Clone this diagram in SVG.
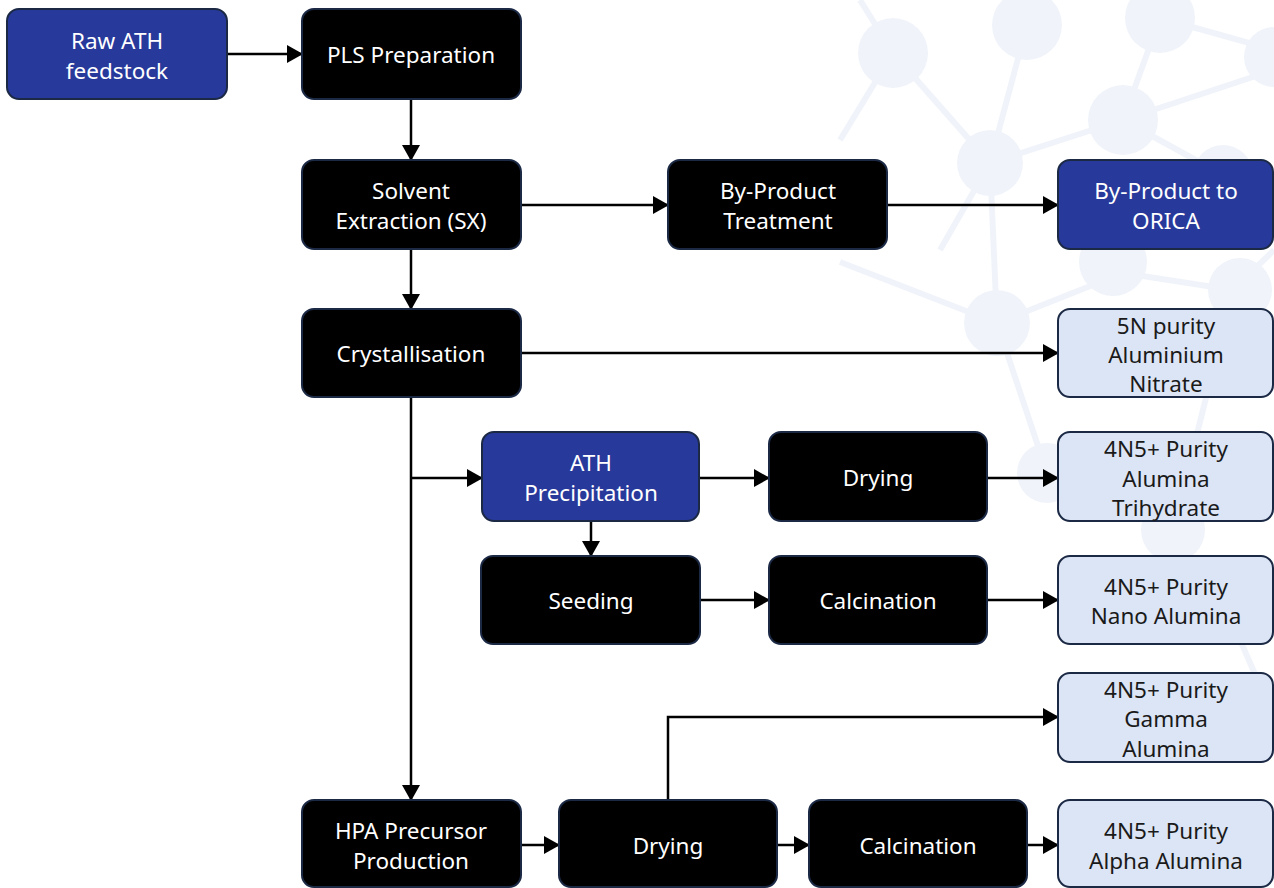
<svg xmlns="http://www.w3.org/2000/svg" width="1274" height="888" viewBox="0 0 1274 888">
<defs>
<marker id="ah" markerWidth="16" markerHeight="18" refX="15" refY="9" orient="auto" markerUnits="userSpaceOnUse">
<path d="M0,0 L16,9 L0,18 Z" fill="#000"/>
</marker>
<style>
.bg circle{fill:#f0f4fa}
.bg line{stroke:#f0f4fa;stroke-width:6}
.n rect{stroke:#1b2945;stroke-width:2}
.dark rect{fill:#000}
.blue rect{fill:#27399b}
.light rect{fill:#dce5f5}
.n text{font-family:"Noto Sans","Open Sans",sans-serif;font-size:22.5px;text-anchor:middle;dominant-baseline:central}
.dark text,.blue text{fill:#fff}
.light text{fill:#1a1a1a}
.c path,.c line{stroke:#000;stroke-width:2.5;fill:none;marker-end:url(#ah)}
</style>
</defs>
<rect width="1274" height="888" fill="#fff"/>
<g class="bg">
<line x1="860" y1="0" x2="893" y2="53"/>
<line x1="893" y1="53" x2="840" y2="140"/>
<line x1="893" y1="53" x2="990" y2="163"/>
<line x1="1027" y1="25" x2="990" y2="163"/>
<line x1="990" y1="163" x2="1123" y2="120"/>
<line x1="1123" y1="120" x2="1160" y2="18"/>
<line x1="1160" y1="18" x2="1274" y2="50"/>
<line x1="1123" y1="120" x2="1274" y2="70"/>
<line x1="1123" y1="120" x2="1223" y2="175"/>
<line x1="990" y1="163" x2="997" y2="323"/>
<line x1="840" y1="262" x2="997" y2="323"/>
<line x1="997" y1="323" x2="1123" y2="273"/>
<line x1="1123" y1="273" x2="1233" y2="290"/>
<line x1="1233" y1="290" x2="1274" y2="250"/>
<line x1="997" y1="323" x2="1047" y2="473"/>
<line x1="1047" y1="473" x2="1173" y2="530"/>
<line x1="1173" y1="530" x2="1233" y2="290"/>
<line x1="1240" y1="640" x2="1262" y2="690"/>
<line x1="990" y1="163" x2="940" y2="250"/>
<circle cx="893" cy="53" r="35"/>
<circle cx="1027" cy="25" r="35"/>
<circle cx="1160" cy="18" r="35"/>
<circle cx="1123" cy="120" r="35"/>
<circle cx="990" cy="163" r="33"/>
<circle cx="1274" cy="57" r="30"/>
<circle cx="1223" cy="175" r="30"/>
<circle cx="1113" cy="262" r="34"/>
<circle cx="1240" cy="290" r="32"/>
<circle cx="997" cy="323" r="33"/>
<circle cx="1047" cy="473" r="30"/>
<circle cx="1173" cy="530" r="32"/>
</g>
<g id="connectors" class="c">
<line x1="227" y1="54" x2="302" y2="54"/>
<line x1="411" y1="99" x2="411" y2="160"/>
<line x1="521" y1="205" x2="668" y2="205"/>
<line x1="887" y1="205" x2="1058" y2="205"/>
<line x1="411" y1="249" x2="411" y2="309"/>
<line x1="521" y1="353" x2="1058" y2="353"/>
<line x1="411" y1="397" x2="411" y2="800"/>
<line x1="411" y1="478" x2="482" y2="478"/>
<line x1="699" y1="478" x2="769" y2="478"/>
<line x1="987" y1="478" x2="1058" y2="478"/>
<line x1="591" y1="521" x2="591" y2="556"/>
<line x1="700" y1="600" x2="769" y2="600"/>
<line x1="987" y1="600" x2="1058" y2="600"/>
<line x1="521" y1="845" x2="559" y2="845"/>
<line x1="777" y1="845" x2="809" y2="845"/>
<line x1="1027" y1="845" x2="1058" y2="845"/>
<path d="M668,800 V717 H1058"/>
</g>
<g id="raw" class="n blue"><rect x="7" y="9" width="220" height="90" rx="12"/><text x="117" y="40">Raw ATH</text><text x="117" y="70">feedstock</text></g>
<g id="pls" class="n dark"><rect x="302" y="9" width="219" height="90" rx="12"/><text x="411" y="54">PLS Preparation</text></g>
<g id="sx" class="n dark"><rect x="302" y="160" width="219" height="89" rx="12"/><text x="411" y="190">Solvent</text><text x="411" y="220">Extraction (SX)</text></g>
<g id="bpt" class="n dark"><rect x="668" y="160" width="219" height="89" rx="12"/><text x="778" y="190">By-Product</text><text x="778" y="220">Treatment</text></g>
<g id="orica" class="n blue"><rect x="1058" y="160" width="215" height="89" rx="12"/><text x="1166" y="190">By-Product to</text><text x="1166" y="220">ORICA</text></g>
<g id="cryst" class="n dark"><rect x="302" y="309" width="219" height="88" rx="12"/><text x="411" y="353">Crystallisation</text></g>
<g id="nitrate" class="n light"><rect x="1058" y="309" width="215" height="88" rx="12"/><text x="1166" y="325">5N purity</text><text x="1166" y="354">Aluminium</text><text x="1166" y="383">Nitrate</text></g>
<g id="athp" class="n blue"><rect x="482" y="432" width="217" height="89" rx="12"/><text x="591" y="462">ATH</text><text x="591" y="492">Precipitation</text></g>
<g id="dry1" class="n dark"><rect x="769" y="432" width="218" height="89" rx="12"/><text x="878" y="477">Drying</text></g>
<g id="ath" class="n light"><rect x="1058" y="432" width="215" height="89" rx="12"/><text x="1166" y="448">4N5+ Purity</text><text x="1166" y="478">Alumina</text><text x="1166" y="507">Trihydrate</text></g>
<g id="seed" class="n dark"><rect x="481" y="556" width="219" height="88" rx="12"/><text x="591" y="600">Seeding</text></g>
<g id="calc1" class="n dark"><rect x="769" y="556" width="218" height="88" rx="12"/><text x="878" y="600">Calcination</text></g>
<g id="nano" class="n light"><rect x="1058" y="556" width="215" height="88" rx="12"/><text x="1166" y="586">4N5+ Purity</text><text x="1166" y="615">Nano Alumina</text></g>
<g id="gamma" class="n light"><rect x="1058" y="673" width="215" height="89" rx="12"/><text x="1166" y="689">4N5+ Purity</text><text x="1166" y="718">Gamma</text><text x="1166" y="748">Alumina</text></g>
<g id="hpa" class="n dark"><rect x="302" y="800" width="219" height="87" rx="12"/><text x="411" y="830">HPA Precursor</text><text x="411" y="860">Production</text></g>
<g id="dry2" class="n dark"><rect x="559" y="800" width="218" height="87" rx="12"/><text x="668" y="845">Drying</text></g>
<g id="calc2" class="n dark"><rect x="809" y="800" width="218" height="87" rx="12"/><text x="918" y="845">Calcination</text></g>
<g id="alpha" class="n light"><rect x="1058" y="800" width="215" height="87" rx="12"/><text x="1166" y="830">4N5+ Purity</text><text x="1166" y="860">Alpha Alumina</text></g>
</svg>
